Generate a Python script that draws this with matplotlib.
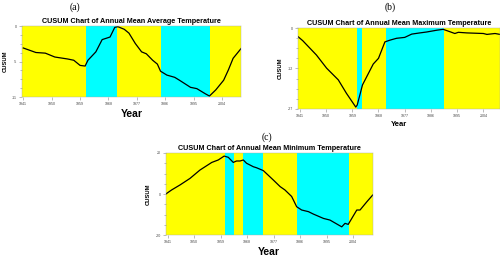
import matplotlib
matplotlib.use('Agg')
import matplotlib.pyplot as plt

plt.rcParams['font.family'] = ['Liberation Sans', 'DejaVu Sans']

YELLOW = '#ffff00'
CYAN = '#00ffff'

# (a) annual mean average temperature
a_years = [1941, 1945, 1948, 1951, 1955, 1957, 1959, 1960.6, 1961.5, 1964, 1966, 1968.5,
           1970, 1971, 1973, 1974.5, 1976.5, 1978.5, 1980, 1982, 1983.5, 1984.5, 1986.5,
           1989, 1990.5, 1994, 1996, 1998.7, 2000, 2002, 2004.5, 2006, 2007.5, 2010]
a_cusum = [-3.4, -4.1, -4.2, -4.8, -5.1, -5.3, -6.1, -6.2, -5.3, -4.0, -2.1, -1.7,
           -0.2, -0.1, -0.5, -1.1, -2.7, -4.0, -4.3, -5.3, -5.9, -7.0, -7.6,
           -7.95, -8.4, -9.5, -9.7, -10.5, -10.85, -9.9, -8.4, -6.8, -5.0, -3.5]
a_bands = [1940.6, 1961, 1970.8, 1984.7, 2000.2, 2010]

# (b) annual mean maximum temperature
b_years = [1940.2, 1942, 1946.7, 1950.2, 1954.2, 1957, 1960.2, 1960.7, 1962.5, 1966.2,
           1968, 1970.2, 1972, 1974.2, 1977, 1979.4, 1982.2, 1984.5, 1988, 1990.2,
           1992.5, 1994.2, 1995.4, 1998.3, 2004, 2005.2, 2008, 2009.7]
b_cusum = [-2.7, -4.2, -9, -13.4, -17.3, -21.8, -26.4, -25.7, -19, -12,
           -10.1, -4.6, -4, -3.4, -3.1, -2, -1.6, -1.3, -0.7, -0.4,
           -1.2, -1.8, -1.4, -1.6, -1.8, -2.1, -1.8, -2.1]
b_bands = [1940.2, 1960.5, 1962.5, 1970.5, 1990.5, 2009.7]

# (c) annual mean minimum temperature
c_years = [1940.3, 1942.4, 1945.2, 1948.6, 1952, 1956, 1958.2, 1960.2, 1961.6, 1963.3,
           1964.4, 1965.6, 1966.7, 1967.8, 1970.1, 1971.2, 1973.5, 1976.9, 1979.2,
           1980.8, 1983.1, 1984.8, 1986.5, 1988.8, 1990.5, 1993.9, 1996.1, 1999,
           2000.1, 2001.2, 2002.3, 2005.2, 2006.3, 2008.6, 2010.6]
c_cusum = [-0.1, 2, 4.4, 7.6, 11.7, 15.4, 16.6, 18.5, 17.9, 15.4,
           16.1, 16.1, 16.6, 15, 13.3, 12.8, 11.4, 6.8, 3.6,
           2, -1.2, -6.2, -7.8, -8.6, -9.8, -11.9, -12.7, -15.1,
           -16, -14.3, -14.8, -7.8, -7.8, -3.8, -0.5]
c_bands = [1940.3, 1960.5, 1963.6, 1966.7, 1973.5, 1984.8, 2002.7, 2010.7]

xticks = [1941, 1950, 1959, 1968, 1977, 1986, 1995, 2004]


def panel(ax, years, cusum, bands, ylim, yticks, ylabels, title, xlabel_size):
    for i in range(len(bands) - 1):
        ax.axvspan(bands[i], bands[i + 1], color=YELLOW if i % 2 == 0 else CYAN, lw=0)
    ax.plot(years, cusum, color='black', lw=0.9)
    ax.set_xlim(bands[0], bands[-1])
    ax.set_ylim(*ylim)
    ax.set_xticks(xticks)
    ax.set_xticklabels([str(t) for t in xticks], fontsize=2.6, color='#444444')
    ax.set_yticks(yticks)
    ax.set_yticklabels(ylabels, fontsize=2.6, color='#444444')
    ax.set_yticks([ylim[0] + (ylim[1] - ylim[0]) * k / 8 for k in range(9)], minor=True)
    ax.tick_params(length=2, width=0.4, color='#888888', pad=1.5)
    ax.tick_params(which='minor', length=1.5, width=0.4, color='#888888')
    for s in ax.spines.values():
        s.set_linewidth(0.3)
        s.set_color('#aaaaaa')
    ax.set_title(title, fontsize=5.2, fontweight='bold', pad=2.5)
    ax.set_ylabel('CUSUM', fontsize=4.2, fontweight='bold', labelpad=3)
    ax.set_xlabel('Year', fontsize=xlabel_size, fontweight='bold', labelpad=2)


fig = plt.figure(figsize=(5, 2.58), dpi=100)

ax_a = fig.add_axes([0.044, 0.624, 0.438, 0.275])
panel(ax_a, a_years, a_cusum, a_bands, (-11, 0), [0, -5.5, -11], ['0', '-5', '-11'],
      'CUSUM Chart of Annual Mean Average Temperature', 7.5)

ax_b = fig.add_axes([0.595, 0.578, 0.405, 0.313])
panel(ax_b, b_years, b_cusum, b_bands, (-27, 0), [0, -13.5, -27], ['0', '-12', '-27'],
      'CUSUM Chart of Annual Mean Maximum Temperature', 5.5)

ax_c = fig.add_axes([0.331, 0.089, 0.415, 0.318])
panel(ax_c, c_years, c_cusum, c_bands, (-20, 20), [20, 0, -20], ['20', '0', '-20'],
      'CUSUM Chart of Annual Mean Minimum Temperature', 7.5)

fig.text(75 / 500, 1 - 7 / 258, '(a)', fontsize=7, family='Liberation Serif', ha='center', va='center')
fig.text(390 / 500, 1 - 7 / 258, '(b)', fontsize=7, family='Liberation Serif', ha='center', va='center')
fig.text(267 / 500, 1 - 137 / 258, '(c)', fontsize=7, family='Liberation Serif', ha='center', va='center')

fig.savefig('out.png', dpi=100)
